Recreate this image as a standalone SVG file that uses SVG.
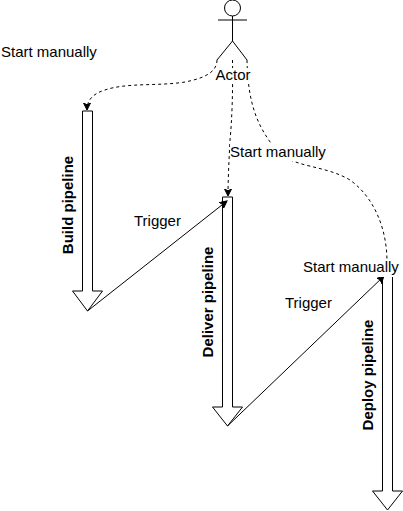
<svg xmlns="http://www.w3.org/2000/svg" width="403" height="511" viewBox="0 0 403 511">
<defs>
<style>
.s{fill:#fff;stroke:#000;stroke-width:1}
.a{fill:none;stroke:#000;stroke-width:1}
.d{fill:none;stroke:#000;stroke-width:1;stroke-dasharray:3 3}
.bg{fill:#fff;stroke:none}
text{font-family:"Liberation Sans",Arial,sans-serif;font-size:15px;fill:#000}
.b{font-weight:bold}
.m{text-anchor:middle}
</style>
<marker id="h" markerUnits="userSpaceOnUse" markerWidth="9" markerHeight="9" refX="7" refY="3.500" orient="auto"><path d="M0 0L7 3.500L0 7L1.750 3.500Z" fill="#000" stroke="#000" stroke-width="1"/></marker>
</defs>
<rect width="403" height="511" fill="#fff"/>
<g id="build-pipeline"><path class="s" d="M82.500 111H92.500V291H102.500L87.500 311L72.500 291H82.500Z"/><text class="b m" transform="translate(72.500 205) rotate(-90)">Build pipeline</text></g>
<g id="deliver-pipeline"><path class="s" d="M222.500 197H232.500V407H242.500L227.500 426L212.500 407H222.500Z"/><text class="b m" transform="translate(213 302) rotate(-90)">Deliver pipeline</text></g>
<g id="deploy-pipeline"><path class="s" d="M382.500 276H392.500V491H402.500L387.500 510L372.500 491H382.500Z"/><text class="b m" transform="translate(373 375) rotate(-90)">Deploy pipeline</text></g>
<g id="actor"><circle class="s" cx="232.500" cy="8" r="8"/><path class="a" d="M232.500 16V41M218 20H247M232.500 41L217 60M232.500 41L247 60"/></g>
<g id="connectors">
<path class="d" marker-end="url(#h)" d="M217 60C217 72 205 78 185 82C160 86 135 83 112 88C95 92 87 98 87 110"/>
<path class="d" marker-end="url(#h)" d="M232.500 60C233 90 232 120 230 140C229 160 228 180 228 196"/>
<path class="d" d="M247 60C248 100 255 125 278 152C295 168 325 165 350 180C375 198 387 230 387 262"/>
<path class="a" marker-end="url(#h)" d="M87.500 311L227 201"/>
<path class="a" marker-end="url(#h)" d="M227.500 426L384 276"/>
</g>
<g id="labels">
<rect class="bg" x="216" y="68" width="35" height="16"/>
<rect class="bg" x="230" y="144" width="98" height="17"/>
<rect class="bg" x="303" y="260" width="97" height="17"/>
<text class="m" x="233" y="80">Actor</text>
<text x="1" y="57">Start manually</text>
<text x="230" y="157">Start manually</text>
<text x="303" y="272">Start manually</text>
<text x="134" y="226">Trigger</text>
<text x="285" y="308">Trigger</text>
</g>
</svg>
